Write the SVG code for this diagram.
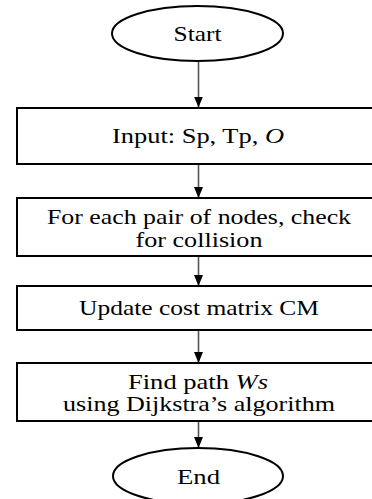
<svg xmlns="http://www.w3.org/2000/svg" width="372" height="499" viewBox="0 0 372 499">
<defs>
<style>
.shape{fill:#fff;stroke:#000;stroke-width:2}
.lbl{font-family:"Liberation Serif","Times New Roman",serif;font-size:21px;fill:#000;text-anchor:middle}
.conn{stroke:#555;stroke-width:1.6;fill:none}
</style>
<marker id="arr" markerWidth="12" markerHeight="9" refX="11" refY="4.5" orient="auto" markerUnits="userSpaceOnUse">
<path d="M0,0 L11,4.5 L0,9 Z" fill="#000"/>
</marker>
</defs>
<rect width="372" height="499" fill="#fff"/>
<g id="connectors">
<line class="conn" x1="198.5" y1="61" x2="198.5" y2="107.5" marker-end="url(#arr)"/>
<line class="conn" x1="198.5" y1="164" x2="198.5" y2="198" marker-end="url(#arr)"/>
<line class="conn" x1="198.5" y1="256" x2="198.5" y2="286" marker-end="url(#arr)"/>
<line class="conn" x1="198.5" y1="330" x2="198.5" y2="363" marker-end="url(#arr)"/>
<line class="conn" x1="198.5" y1="421" x2="198.5" y2="448" marker-end="url(#arr)"/>
</g>
<g id="start">
<ellipse class="shape" cx="197.5" cy="33.5" rx="85.5" ry="27.5"/>
<text class="lbl" x="197.5" y="41" textLength="48" lengthAdjust="spacingAndGlyphs">Start</text>
</g>
<g id="input">
<rect class="shape" x="17" y="108" width="366" height="56"/>
<text class="lbl" x="198" y="143" textLength="172" lengthAdjust="spacingAndGlyphs">Input: Sp, Tp, <tspan font-style="italic">O</tspan></text>
</g>
<g id="collision">
<rect class="shape" x="17" y="198" width="366" height="58"/>
<text class="lbl" x="199" y="223.5" textLength="304" lengthAdjust="spacingAndGlyphs">For each pair of nodes, check</text>
<text class="lbl" x="199" y="246.5" textLength="127" lengthAdjust="spacingAndGlyphs">for collision</text>
</g>
<g id="update">
<rect class="shape" x="17" y="286" width="366" height="44"/>
<text class="lbl" x="199" y="315" textLength="240" lengthAdjust="spacingAndGlyphs">Update cost matrix CM</text>
</g>
<g id="findpath">
<rect class="shape" x="17" y="363" width="366" height="58"/>
<text class="lbl" x="198" y="388.5" textLength="140" lengthAdjust="spacingAndGlyphs">Find path <tspan font-style="italic">Ws</tspan></text>
<text class="lbl" x="199" y="411" textLength="272" lengthAdjust="spacingAndGlyphs">using Dijkstra’s algorithm</text>
</g>
<g id="end">
<ellipse class="shape" cx="198" cy="476" rx="85" ry="28"/>
<text class="lbl" x="198.5" y="484" textLength="43" lengthAdjust="spacingAndGlyphs">End</text>
</g>
</svg>
